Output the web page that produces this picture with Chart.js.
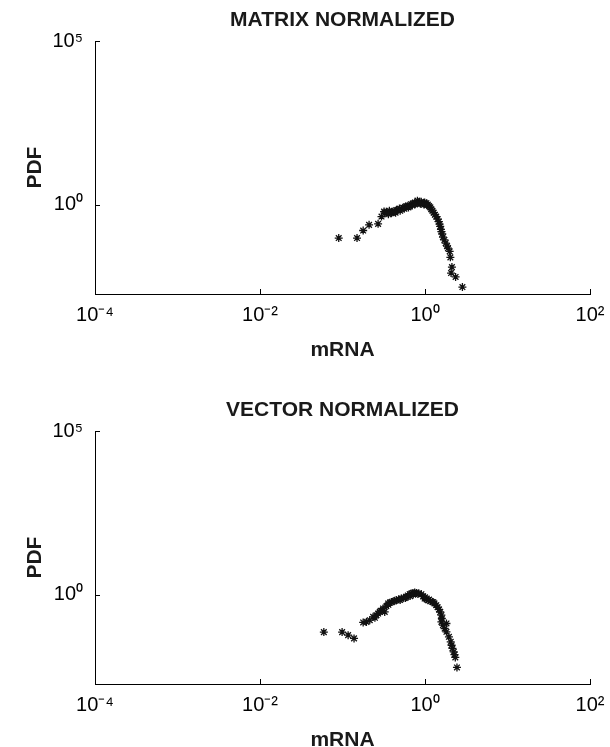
<!DOCTYPE html>
<html lang="en">
<head>
<meta charset="UTF-8">
<title>mRNA PDF</title>
<script src="https://cdn.jsdelivr.net/npm/chart.js@4"></script>
<style>
  html, body { margin: 0; padding: 0; background: #fff; overflow: hidden; }
  .panel { position: absolute; left: 0; width: 610px; height: 366px; }
  #top { top: 0; }
  #bottom { top: 390px; }
</style>
</head>
<body>
<div class="panel" id="top"><canvas id="matrixChart"></canvas></div>
<div class="panel" id="bottom"><canvas id="vectorChart"></canvas></div>
<script>
// axis ticks / ranges
const xTicks = [1e-4, 1e-2, 1, 1e2];
const yTicks = [1, 1e5];
const xRange = [1e-4, 1e2];
const yRange = [0.0019, 1e5];

// MATRIX NORMALIZED
const matrixX = [0.090, 0.150, 0.178, 0.210, 0.270, 0.297, 0.319,
  0.325, 0.34, 0.357, 0.37, 0.392, 0.41, 0.43, 0.45, 0.47, 0.49, 0.52, 0.54, 0.57, 0.59,
  0.62, 0.65, 0.68, 0.71, 0.75, 0.78, 0.81, 0.84, 0.86, 0.90, 0.95, 0.99, 1.04, 1.08,
  1.12, 1.16, 1.19, 1.23, 1.27, 1.32, 1.37, 1.42, 1.47, 1.50, 1.53, 1.56, 1.58, 1.62,
  1.65, 1.72, 1.78, 1.85, 1.90, 1.99, 2.03, 2.12, 2.07, 2.35, 2.84,
  0.36, 0.40, 0.44, 0.50, 0.56, 0.63, 0.70, 0.76, 0.88, 0.97, 1.06];
const matrixY = [0.097, 0.097, 0.165, 0.246, 0.264, 0.44, 0.625,
  0.56, 0.62, 0.58, 0.66, 0.56, 0.63, 0.62, 0.70, 0.70, 0.78, 0.75, 0.82, 0.85, 0.90,
  0.95, 0.92, 1.05, 1.10, 1.17, 1.12, 1.35, 1.20, 1.17, 1.25, 1.13, 1.18, 1.13, 1.02,
  0.93, 0.84, 0.74, 0.66, 0.58, 0.50, 0.44, 0.37, 0.31, 0.26, 0.22, 0.18, 0.153, 0.13,
  0.104, 0.085, 0.068, 0.055, 0.048, 0.038, 0.025, 0.0126, 0.0083, 0.0063, 0.0031,
  0.52, 0.60, 0.58, 0.66, 0.76, 0.84, 0.96, 1.04, 1.08, 1.02, 0.98];

// VECTOR NORMALIZED
const vectorX = [0.0594, 0.0989, 0.117, 0.138, 0.178, 0.195, 0.214, 0.235, 0.247, 0.258,
  0.27, 0.283, 0.31, 0.325, 0.34, 0.357, 0.375, 0.392, 0.42, 0.451, 0.48, 0.518, 0.55,
  0.596, 0.62, 0.653, 0.68, 0.716, 0.75, 0.787, 0.84, 0.904, 0.95, 0.99, 1.04, 1.09,
  1.16, 1.23, 1.30, 1.37, 1.42, 1.48, 1.53, 1.58, 1.60, 1.58, 1.82, 1.65, 1.73, 1.82,
  1.95, 2.05, 2.10, 2.15, 2.23, 2.28, 2.33, 2.44,
  0.29, 0.36, 0.43, 0.50, 0.58, 0.66, 0.72, 0.82, 1.00, 1.12, 1.26];
const vectorY = [0.073, 0.073, 0.059, 0.047, 0.144, 0.150, 0.169, 0.214, 0.20, 0.24,
  0.27, 0.303, 0.385, 0.303, 0.45, 0.547, 0.58, 0.61, 0.64, 0.69, 0.74, 0.776, 0.82,
  0.87, 0.96, 1.05, 1.10, 1.15, 1.18, 1.15, 1.12, 1.05, 0.90, 0.776, 0.74, 0.69,
  0.65, 0.61, 0.55, 0.485, 0.42, 0.359, 0.30, 0.24, 0.19, 0.15, 0.134, 0.12, 0.094, 0.0745,
  0.0525, 0.037, 0.029, 0.0232, 0.0183, 0.015, 0.0123, 0.0061,
  0.33, 0.50, 0.66, 0.70, 0.80, 0.92, 1.02, 1.06, 0.84, 0.72, 0.60];

const FONT = "'Liberation Sans', Arial, Helvetica, sans-serif";
const SUP = {'-': '\u207B', '0': '\u2070', '1': '\u00B9', '2': '\u00B2', '3': '\u00B3', '4': '\u2074', '5': '\u2075'};

function powLabel(v) {
  const e = String(Math.round(Math.log10(v)));
  return '10' + e.split('').map(c => SUP[c]).join('');
}

// MATLAB style ticks pointing into the axes
const innerTicks = {
  id: 'innerTicks',
  afterDraw(chart) {
    const {ctx, chartArea, scales} = chart;
    ctx.save();
    ctx.strokeStyle = '#000';
    ctx.lineWidth = 1;
    ctx.beginPath();
    scales.x.ticks.forEach(t => {
      const px = Math.round(scales.x.getPixelForValue(t.value)) + 0.5;
      ctx.moveTo(px, chartArea.bottom);
      ctx.lineTo(px, chartArea.bottom - 5);
    });
    scales.y.ticks.forEach(t => {
      const py = Math.round(scales.y.getPixelForValue(t.value)) + 0.5;
      ctx.moveTo(chartArea.left, py);
      ctx.lineTo(chartArea.left + 5, py);
    });
    ctx.stroke();
    ctx.restore();
  }
};

function makeChart(id, title, xs, ys) {
  const points = xs.map((x, i) => ({x: x, y: ys[i]}));
  return new Chart(document.getElementById(id), {
    type: 'scatter',
    data: {
      datasets: [{
        data: points,
        pointStyle: 'star',
        pointRadius: 4,
        borderColor: '#111',
        backgroundColor: '#111',
        borderWidth: 1.3
      }]
    },
    options: {
      responsive: true,
      maintainAspectRatio: false,
      animation: false,
      layout: { padding: { left: 0, right: 20, top: 0, bottom: 2 } },
      plugins: {
        legend: { display: false },
        tooltip: { enabled: false },
        title: {
          display: true,
          text: title,
          fullSize: false,
          color: '#1a1a1a',
          font: { family: FONT, size: 21, weight: 'bold', lineHeight: 1.2 },
          padding: { top: 8, bottom: 8 }
        }
      },
      scales: {
        x: {
          type: 'logarithmic',
          min: xRange[0],
          max: xRange[1],
          afterBuildTicks: s => { s.ticks = xTicks.map(v => ({value: v})); },
          afterFit: s => { s.height = 70; s.paddingLeft = 0; s.paddingRight = 0; },
          grid: { display: false, drawTicks: false },
          border: { display: true, color: '#000', width: 1 },
          ticks: {
            autoSkip: false,
            maxRotation: 0,
            padding: 9,
            color: '#000',
            font: { family: FONT, size: 20 },
            callback: v => powLabel(v)
          },
          title: {
            display: true,
            text: 'mRNA',
            color: '#1a1a1a',
            font: { family: FONT, size: 21, weight: 'bold', lineHeight: 1.2 },
            padding: { top: 0, bottom: 1 }
          }
        },
        y: {
          type: 'logarithmic',
          min: yRange[0],
          max: yRange[1],
          afterBuildTicks: s => { s.ticks = yTicks.map(v => ({value: v})); },
          afterFit: s => { s.width = 95; },
          grid: { display: false, drawTicks: false },
          border: { display: true, color: '#000', width: 1 },
          ticks: {
            autoSkip: false,
            padding: 12,
            color: '#000',
            font: { family: FONT, size: 20 },
            callback: v => powLabel(v)
          },
          title: {
            display: true,
            text: 'PDF',
            color: '#1a1a1a',
            font: { family: FONT, size: 21, weight: 'bold', lineHeight: 1.2 },
            padding: { top: 23, bottom: 0 }
          }
        }
      }
    },
    plugins: [innerTicks]
  });
}

makeChart('matrixChart', 'MATRIX NORMALIZED', matrixX, matrixY);
makeChart('vectorChart', 'VECTOR NORMALIZED', vectorX, vectorY);
</script>
</body>
</html>
